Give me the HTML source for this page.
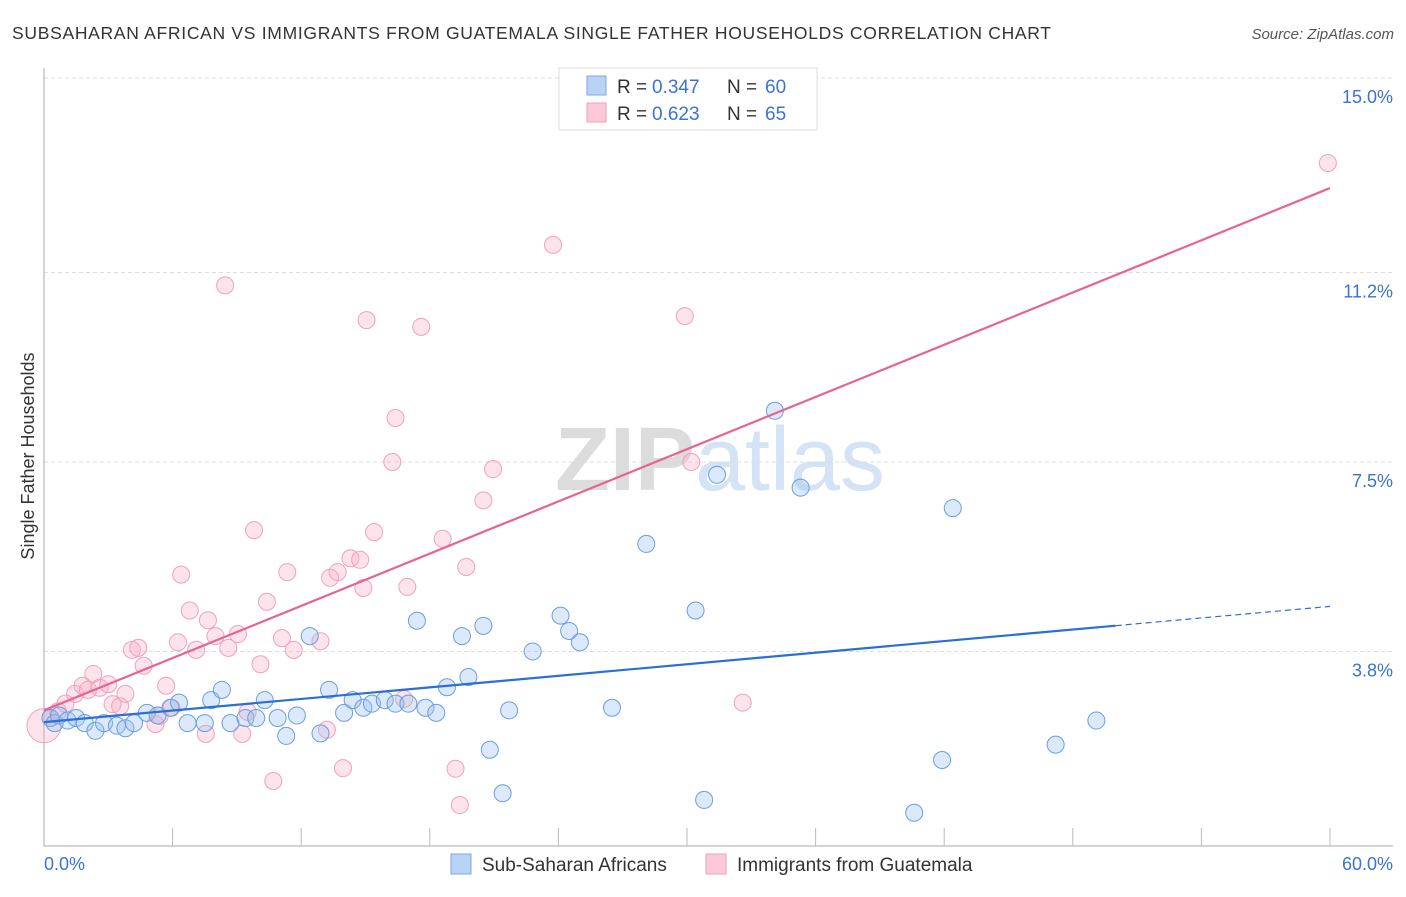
<!DOCTYPE html>
<html><head><meta charset="utf-8"><style>
body{margin:0;background:#fff;font-family:"Liberation Sans",sans-serif}
svg text{font-family:"Liberation Sans",sans-serif}
</style></head><body>
<svg id="chart" width="1406" height="892">
<text x="12" y="39" font-size="17.5" fill="#333" textLength="1039" lengthAdjust="spacing">SUBSAHARAN AFRICAN VS IMMIGRANTS FROM GUATEMALA SINGLE FATHER HOUSEHOLDS CORRELATION CHART</text>
<text x="1394" y="39" font-size="15" fill="#555" font-style="italic" text-anchor="end">Source: ZipAtlas.com</text>
<text x="720" y="490" font-size="90" fill="#e4e4e4" text-anchor="middle" font-family="Liberation Serif"><tspan font-weight="bold" fill="#dcdcdc">ZIP</tspan><tspan fill="#d4e4f6" font-family="Liberation Sans">atlas</tspan></text>
<g id="grid"></g>
<g id="pts"></g>
<g id="lines"></g>
<text x="34" y="456" font-size="18" fill="#333" text-anchor="middle" transform="rotate(-90 34 456)">Single Father Households</text>
<text x="44" y="870" font-size="18" fill="#3a73d0">0.0%</text>
<text x="1393" y="870" font-size="18" fill="#3a73d0" text-anchor="end">60.0%</text>
<g>
<rect x="559" y="68" width="258" height="62" fill="#fff" stroke="#ddd"/>
<rect x="587" y="76" width="19" height="19" fill="#b9d3f5" stroke="#7aa7e6"/>
<rect x="587" y="103" width="19" height="19" fill="#fbc9d7" stroke="#f0a0b8"/>
<text x="617" y="93" font-size="19" fill="#333">R =</text>
<text x="652" y="93" font-size="19" fill="#3a73d0">0.347</text>
<text x="727" y="93" font-size="19" fill="#333">N =</text>
<text x="765" y="93" font-size="19" fill="#3a73d0">60</text>
<text x="617" y="120" font-size="19" fill="#333">R =</text>
<text x="652" y="120" font-size="19" fill="#3a73d0">0.623</text>
<text x="727" y="120" font-size="19" fill="#333">N =</text>
<text x="765" y="120" font-size="19" fill="#3a73d0">65</text>
</g>
<g>
<rect x="451" y="854" width="20" height="20" fill="#b9d3f5" stroke="#7aa7e6"/>
<text x="482" y="871" font-size="19" fill="#333">Sub-Saharan Africans</text>
<rect x="706" y="854" width="20" height="20" fill="#fbc9d7" stroke="#f0a0b8"/>
<text x="737" y="871" font-size="19" fill="#333">Immigrants from Guatemala</text>
</g>
</svg>
<script>
const yTicks=[3.8,7.5,11.2,15.0];
const yTickLabels=["3.8%","7.5%","11.2%","15.0%"];
const blueX=[0.3,0.5,0.7,1.1,1.5,1.9,2.4,2.8,3.4,3.8,4.2,4.8,5.3,5.9,6.3,6.7,7.5,7.8,8.3,8.7,9.4,9.9,10.3,10.9,11.3,11.8,12.4,12.9,13.3,14.0,14.4,14.9,15.3,15.9,16.4,17.0,17.4,17.8,18.3,18.8,19.5,19.8,20.5,20.8,21.4,21.7,22.8,24.1,24.5,25.0,26.5,28.1,30.4,30.8,31.4,34.1,35.3,40.6,41.9,42.4,47.2,49.1];
const blueY=[2.5,2.4,2.55,2.45,2.5,2.4,2.25,2.4,2.35,2.3,2.4,2.6,2.55,2.7,2.8,2.4,2.4,2.85,3.05,2.4,2.5,2.5,2.85,2.5,2.15,2.55,4.1,2.2,3.05,2.6,2.85,2.7,2.78,2.85,2.78,2.78,4.4,2.7,2.6,3.1,4.1,3.3,4.3,1.88,1.03,2.65,3.8,4.5,4.2,3.98,2.7,5.9,4.6,0.9,7.25,8.5,7.0,0.65,1.68,6.6,1.98,2.45];
const pinkX=[0.0,0.3,0.65,1.0,1.45,1.8,2.05,2.3,2.6,3.0,3.2,3.55,3.8,4.1,4.4,4.65,5.2,5.4,5.7,5.95,6.4,6.8,6.25,7.1,7.55,7.65,8.0,8.45,8.6,9.05,9.25,9.5,9.8,10.1,10.4,10.7,11.1,11.35,11.65,12.9,13.2,13.35,13.7,13.95,14.3,14.75,14.9,15.05,15.4,16.25,16.4,16.8,16.95,17.6,18.6,19.2,19.4,19.7,20.5,20.95,23.75,29.9,30.2,32.6,59.9];
const pinkY=[2.35,2.5,2.63,2.78,2.97,3.13,3.05,3.36,3.09,3.16,2.77,2.73,2.97,3.83,3.87,3.52,2.38,2.54,3.13,2.7,5.3,4.6,3.98,3.83,2.19,4.41,4.1,10.95,3.87,4.14,2.19,2.62,6.17,3.55,4.77,1.27,4.06,5.35,3.83,4.0,2.27,5.24,5.35,1.52,5.62,5.59,5.04,10.27,6.13,7.5,8.36,2.87,5.06,10.14,6.0,1.51,0.8,5.45,6.75,7.36,11.74,10.35,7.5,2.8,13.34];
const blueFit=[2.42,4.68];
const pinkFit=[2.65,12.85];
const X0=44,X1=1330,Y0=846,PPY=51.2;
const xs=v=>X0+(X1-X0)*v/60, ys=v=>Y0-v*PPY;
const NS="http://www.w3.org/2000/svg";
function mk(t,a,p){const e=document.createElementNS(NS,t);for(const k in a)e.setAttribute(k,a[k]);p.appendChild(e);return e;}
const grid=document.getElementById('grid');
yTicks.forEach((v,i)=>{
 const l=mk('line',{x1:X0,x2:1393,y1:ys(v),y2:ys(v),stroke:'#ddd','stroke-dasharray':'4 3'},grid);
 
 
 const t=mk('text',{x:1393,y:ys(v)+25,'font-size':18,fill:'#3a73d0','text-anchor':'end'},grid);
 t.textContent=yTickLabels[i];
 
 
});
const ax=mk('line',{x1:X0,x2:X0,y1:68,y2:846,stroke:'#aaa'},grid);


const bx=mk('line',{x1:X0,x2:1393,y1:846,y2:846,stroke:'#aaa'},grid);


for(let i=1;i<=10;i++){const x=xs(i*6);
 const tk=mk('line',{x1:x,x2:x,y1:828,y2:846,stroke:'#bbb'},grid);
 
 }
const pts=document.getElementById('pts');
pinkX.forEach((v,i)=>{const c=mk('circle',{cx:xs(v),cy:ys(pinkY[i]),r:i==0?17:8.5,fill:'rgba(248,175,198,0.35)',stroke:'#efa2ba','stroke-width':1},pts);
 
 });
blueX.forEach((v,i)=>{const c=mk('circle',{cx:xs(v),cy:ys(blueY[i]),r:8.5,fill:'rgba(155,192,240,0.35)',stroke:'#6a9ee0','stroke-width':1},pts);
 
 });
const lines=document.getElementById('lines');
const pl=mk('line',{x1:xs(0),y1:ys(pinkFit[0]),x2:xs(60),y2:ys(pinkFit[1]),stroke:'#e8648f','stroke-width':2.2},lines);


const bEnd=50,bYe=blueFit[0]+(blueFit[1]-blueFit[0])*bEnd/60;
const bl=mk('line',{x1:xs(0),y1:ys(blueFit[0]),x2:xs(bEnd),y2:ys(bYe),stroke:'#2a6fd6','stroke-width':2.2},lines);


const bd=mk('line',{x1:xs(bEnd),y1:ys(bYe),x2:xs(60),y2:ys(blueFit[1]),stroke:'#2a6fd6','stroke-width':1.2,'stroke-dasharray':'6 4'},lines);


</script>
</body></html>
